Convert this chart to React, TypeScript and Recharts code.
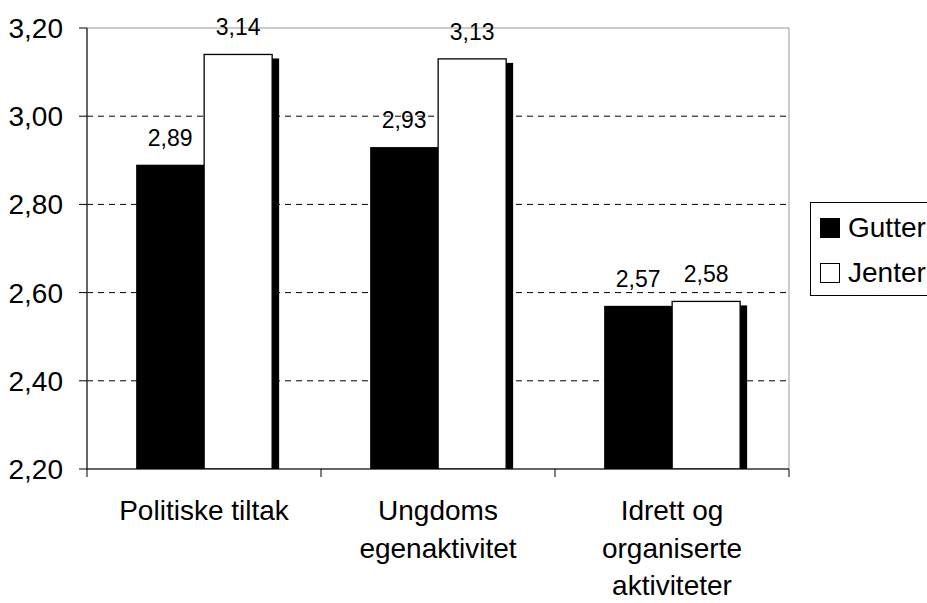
import React from 'react';
import { BarChart, Bar, XAxis, YAxis, CartesianGrid, LabelList, Legend, ReferenceArea } from 'recharts';

const categories = ['Politiske tiltak', 'Ungdoms\negenaktivitet', 'Idrett og\norganiserte\naktiviteter'];
const gutter = [2.89, 2.93, 2.57];
const jenter = [3.14, 3.13, 2.58];
const yTicks = [2.2, 2.4, 2.6, 2.8, 3.0, 3.2];
const gridValues = [2.4, 2.6, 2.8, 3.0];
const seriesNames = ['Gutter', 'Jenter'];

const data = categories.map((c, i) => ({ name: c, gutter: gutter[i], jenter: jenter[i] }));
const fmt = (v: any) => Number(v).toFixed(2).replace('.', ',');

const FONT = "'Liberation Sans', Arial, Helvetica, sans-serif";

function ShadowBar(props: any) {
  const { x, y, width, height, fill, stroke } = props;
  if (!height || height <= 0) return null;
  return (
    <g>
      <rect x={x + 7} y={y + 4} width={width} height={Math.max(0, height - 4)} fill="#000" />
      <rect
        x={x}
        y={y}
        width={width}
        height={height}
        fill={fill}
        stroke={stroke || 'none'}
        strokeWidth={stroke ? 1.3 : 0}
      />
    </g>
  );
}

function CategoryTick(props: any) {
  const { x, y, payload, width, visibleTicksCount, index } = props;
  const count = visibleTicksCount || categories.length;
  const band = width / count;
  const axisY = y - 8;
  const lines = String(payload.value).split('\n');
  const left = x - band / 2;
  return (
    <g>
      <line x1={left} y1={axisY} x2={left} y2={axisY + 8} stroke="#000" />
      {index === count - 1 && (
        <line x1={left + band} y1={axisY} x2={left + band} y2={axisY + 8} stroke="#000" />
      )}
      <text x={x} y={axisY + 51} textAnchor="middle" fontSize={28} fontFamily={FONT} fill="#000">
        {lines.map((l, i) => (
          <tspan key={i} x={x} dy={i === 0 ? 0 : 37.5}>
            {l}
          </tspan>
        ))}
      </text>
    </g>
  );
}

function LegendBox() {
  const swatch = (filled: boolean, top: number) => (
    <div
      style={{
        position: 'absolute',
        left: 9,
        top,
        width: filled ? 20 : 18,
        height: filled ? 20 : 18,
        background: filled ? '#000' : '#fff',
        border: filled ? 'none' : '1px solid #000',
      }}
    />
  );
  const label = (text: string, top: number) => (
    <div style={{ position: 'absolute', left: 37, top, lineHeight: '32px', whiteSpace: 'nowrap' }}>{text}</div>
  );
  return (
    <div
      style={{
        position: 'relative',
        width: 150,
        height: 92,
        border: '1px solid #000',
        background: '#fff',
        fontFamily: FONT,
        fontSize: 28,
        color: '#000',
      }}
    >
      {swatch(true, 15)}
      {label(seriesNames[0], 9)}
      {swatch(false, 60)}
      {label(seriesNames[1], 54)}
    </div>
  );
}

export default function App() {
  return (
    <div
      style={{
        position: 'fixed',
        left: 0,
        top: 0,
        width: 927,
        height: 603,
        overflow: 'hidden',
        background: '#fff',
      }}
    >
      <BarChart
        width={927}
        height={603}
        data={data}
        margin={{ top: 28, right: 138, left: 0, bottom: 0 }}
        barCategoryGap="21%"
        barGap={0}
      >
        <ReferenceArea y1={2.2} y2={3.2} fill="none" stroke="#999" ifOverflow="visible" />
        <CartesianGrid vertical={false} stroke="#000" strokeDasharray="6 5" horizontalValues={gridValues} />
        <XAxis
          dataKey="name"
          interval={0}
          height={134}
          tickSize={8}
          tickMargin={0}
          tickLine={false}
          axisLine={{ stroke: '#000' }}
          tick={<CategoryTick />}
        />
        <YAxis
          domain={[2.2, 3.2]}
          ticks={yTicks}
          interval={0}
          allowDataOverflow
          tickFormatter={fmt}
          width={87}
          tickSize={8}
          tickMargin={16}
          axisLine={{ stroke: '#000' }}
          tickLine={{ stroke: '#000' }}
          tick={{ fill: '#000', fontSize: 28, fontFamily: FONT }}
        />
        <Legend
          layout="vertical"
          align="center"
          verticalAlign="middle"
          content={<LegendBox />}
          wrapperStyle={{ position: 'absolute', left: 810, top: 202, width: 152, height: 94 }}
        />
        <Bar dataKey="gutter" name={seriesNames[0]} fill="#000" shape={ShadowBar} isAnimationActive={false}>
          <LabelList
            dataKey="gutter"
            position="top"
            offset={19}
            formatter={fmt}
            fill="#000"
            fontSize={23}
            fontFamily={FONT}
          />
        </Bar>
        <Bar dataKey="jenter" name={seriesNames[1]} fill="#fff" stroke="#000" shape={ShadowBar} isAnimationActive={false}>
          <LabelList
            dataKey="jenter"
            position="top"
            offset={19}
            formatter={fmt}
            fill="#000"
            fontSize={23}
            fontFamily={FONT}
          />
        </Bar>
      </BarChart>
    </div>
  );
}
